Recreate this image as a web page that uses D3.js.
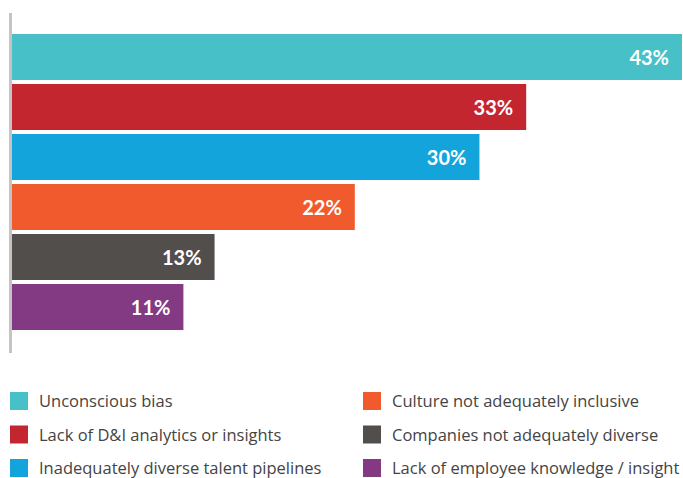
<!DOCTYPE html>
<html>
<head>
<meta charset="utf-8">
<script src="https://cdn.jsdelivr.net/npm/d3@7"></script>
<style>
  html, body { margin: 0; padding: 0; background: #fff; }
  svg { display: block; }
</style>
</head>
<body>
<svg id="chart" width="683" height="478"></svg>
<script>
// values
var categories = [
  "Unconscious bias",
  "Lack of D&I analytics or insights",
  "Inadequately diverse talent pipelines",
  "Culture not adequately inclusive",
  "Companies not adequately diverse",
  "Lack of employee knowledge / insight"
];
var values = [43, 33, 30, 22, 13, 11];
var colors = ["#47c1c7", "#c42630", "#13a4dc", "#f05a2c", "#524e4c", "#843a83"];

var svg = d3.select("#chart");

var x = d3.scaleLinear().domain([0, 43]).range([12, 682]);
var y = d3.scaleBand().domain(categories).range([34, 330]).paddingInner(0.08).paddingOuter(0);

// bars
svg.selectAll("rect.bar")
  .data(values)
  .enter()
  .append("rect")
    .attr("class", "bar")
    .attr("x", x(0))
    .attr("y", function(d, i) { return y(categories[i]); })
    .attr("width", function(d) { return x(d) - x(0); })
    .attr("height", y.bandwidth())
    .attr("fill", function(d, i) { return colors[i]; });

svg.selectAll("text.val")
  .data(values)
  .enter()
  .append("text")
    .attr("class", "val")
    .attr("x", function(d) { return x(d) - 13; })
    .attr("y", function(d, i) { return y(categories[i]) + y.bandwidth() / 2 + 8; })
    .attr("text-anchor", "end")
    .style("font-family", "Lato, sans-serif")
    .style("font-weight", "bold")
    .style("font-size", "20px")
    .style("fill", "#fff")
    .text(function(d) { return d + "%"; });

// axis line on the left
svg.append("line")
  .attr("x1", 10.5).attr("x2", 10.5)
  .attr("y1", 13).attr("y2", 353)
  .attr("stroke", "#c4c4c4")
  .attr("stroke-width", 3);

// legend, two columns of three
var legend = svg.selectAll("g.leg")
  .data(categories)
  .enter()
  .append("g")
    .attr("class", "leg")
    .attr("transform", function(d, i) {
      var col = Math.floor(i / 3), row = i % 3;
      return "translate(" + (col ? 363 : 10) + "," + (392 + row * 33.5) + ")";
    });

legend.append("rect")
  .attr("width", 18).attr("height", 18)
  .attr("fill", function(d, i) { return colors[i]; });

legend.append("text")
  .attr("x", 29)
  .attr("y", 15)
  .style("font-family", "'Open Sans', sans-serif")
  .style("font-size", "16.5px")
  .style("fill", "#444")
  .text(function(d) { return d; });
</script>
</body>
</html>
